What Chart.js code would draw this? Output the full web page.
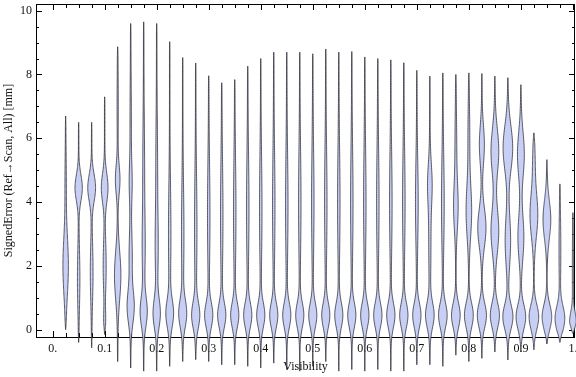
<!DOCTYPE html>
<html>
<head>
<meta charset="utf-8">
<script src="https://cdn.jsdelivr.net/npm/chart.js@4"></script>
<style>
  html, body { margin: 0; padding: 0; background: #fff; }
</style>
</head>
<body>
<canvas id="chart" width="576" height="377"></canvas>
<script>
// violin positions on the Visibility axis
const visibility = [0.025, 0.05, 0.075, 0.1, 0.125, 0.15, 0.175, 0.2, 0.225, 0.25,
  0.275, 0.3, 0.325, 0.35, 0.375, 0.4, 0.425, 0.45, 0.475, 0.5,
  0.525, 0.55, 0.575, 0.6, 0.625, 0.65, 0.675, 0.7, 0.725, 0.75,
  0.775, 0.8, 0.825, 0.85, 0.875, 0.9, 0.925, 0.95, 0.975, 1.0];

// extent of each distribution (mm)
const errorMax = [6.7, 6.5, 6.5, 7.3, 8.87, 9.6, 9.65, 9.6, 9.03, 8.53,
  8.36, 7.96, 7.74, 7.84, 8.26, 8.5, 8.7, 8.7, 8.7, 8.65,
  8.8, 8.7, 8.72, 8.55, 8.5, 8.46, 8.37, 8.13, 7.95, 8.05,
  8.0, 8.05, 8.03, 7.95, 7.9, 7.68, 6.17, 5.33, 4.57, 3.67];
const errorMin = [0.0, -0.4, -0.57, -0.15, -1.0, -1.2, -1.3, -1.3, -1.15, -1.0,
  -0.94, -1.0, -1.1, -1.1, -1.15, -1.2, -1.05, -1.25, -1.3, -1.15,
  -1.0, -1.3, -1.25, -1.3, -1.25, -1.3, -1.3, -1.1, -1.1, -1.15,
  -0.8, -1.0, -0.9, -0.7, -0.95, -0.7, -0.63, -0.45, -0.4, -0.12];

// density modes: [centre (mm), relative width, spread (mm)]
const densityModes = [
  [[2.0, 0.55, 0.9], [4.6, 0.1, 0.8]],
  [[4.45, 0.75, 0.4], [1.6, 0.22, 0.9]],
  [[4.45, 0.8, 0.42], [1.8, 0.25, 0.9]],
  [[4.45, 0.68, 0.45], [2.0, 0.28, 0.8], [0.3, 0.15, 0.3]],
  [[4.7, 0.45, 0.45], [1.7, 0.65, 0.75], [7.0, 0.08, 1.0]],
  [[0.7, 0.7, 0.5], [2.3, 0.3, 0.8], [4.6, 0.25, 0.6], [6.5, 0.1, 1.2]],
  [[0.55, 0.7, 0.45], [2.5, 0.25, 1.0], [5.0, 0.15, 1.5]],
  [[0.5, 0.72, 0.45], [2.5, 0.25, 1.0], [5.0, 0.15, 1.5]],
  [[0.5, 0.75, 0.42], [3.0, 0.22, 1.5]],
  [[0.5, 0.78, 0.42], [3.0, 0.22, 1.5]],
  [[0.45, 0.8, 0.4], [3.2, 0.22, 1.6]],
  [[0.45, 0.82, 0.38], [3.6, 0.22, 1.6]],
  [[0.45, 0.82, 0.38], [3.6, 0.22, 1.6]],
  [[0.45, 0.82, 0.38], [3.7, 0.22, 1.6]],
  [[0.45, 0.82, 0.38], [3.8, 0.22, 1.6]],
  [[0.45, 0.82, 0.38], [3.8, 0.22, 1.6]],
  [[0.45, 0.82, 0.38], [3.9, 0.22, 1.6]],
  [[0.45, 0.82, 0.38], [3.9, 0.22, 1.6]],
  [[0.45, 0.82, 0.38], [4.0, 0.22, 1.6]],
  [[0.45, 0.82, 0.38], [4.0, 0.22, 1.6]],
  [[0.45, 0.82, 0.38], [4.0, 0.22, 1.6]],
  [[0.45, 0.82, 0.38], [4.0, 0.22, 1.6]],
  [[0.45, 0.82, 0.38], [4.0, 0.22, 1.6]],
  [[0.45, 0.84, 0.38], [4.0, 0.22, 1.6]],
  [[0.45, 0.84, 0.38], [4.0, 0.22, 1.6]],
  [[0.45, 0.84, 0.38], [4.0, 0.23, 1.5]],
  [[0.45, 0.84, 0.38], [4.0, 0.23, 1.5]],
  [[0.45, 0.85, 0.38], [4.0, 0.25, 1.3]],
  [[0.45, 0.85, 0.38], [4.6, 0.35, 0.6], [3.0, 0.2, 1.5]],
  [[0.45, 0.88, 0.38], [4.0, 0.25, 1.4]],
  [[0.45, 0.9, 0.38], [3.8, 0.4, 0.7], [5.5, 0.15, 1.2]],
  [[0.45, 0.92, 0.38], [3.7, 0.55, 0.8], [6.0, 0.15, 1.0]],
  [[0.45, 0.95, 0.38], [3.2, 0.85, 0.6], [5.8, 0.5, 0.6]],
  [[0.45, 0.95, 0.38], [3.1, 0.8, 0.7], [5.6, 0.8, 0.7]],
  [[0.4, 1.05, 0.38], [2.8, 0.55, 0.8], [5.7, 1.0, 0.7]],
  [[0.4, 1.0, 0.38], [2.9, 0.6, 0.7], [5.5, 0.7, 0.7]],
  [[0.4, 1.0, 0.38], [3.6, 0.8, 0.7], [5.3, 0.2, 0.6]],
  [[0.4, 1.0, 0.38], [3.45, 0.8, 0.6]],
  [[0.35, 1.0, 0.38], [2.5, 0.15, 1.0]],
  [[0.25, 0.65, 0.3], [1.8, 0.08, 1.0]]
];

// axis ticks
const xLabelTicks = [0, 0.1, 0.2, 0.3, 0.4, 0.5, 0.6, 0.7, 0.8, 0.9, 1.0];
const xLabels = ['0.', '0.1', '0.2', '0.3', '0.4', '0.5', '0.6', '0.7', '0.8', '0.9', '1.'];
const yLabelTicks = [0, 2, 4, 6, 8, 10];
const yMinorTicks = [0.5, 1, 1.5, 2.5, 3, 3.5, 4.5, 5, 5.5, 6.5, 7, 7.5, 8.5, 9, 9.5];

const FONT = "'Liberation Serif', 'DejaVu Serif', serif";
const violinHalfWidth = 0.0088;   // x units for relative width 1
const fillColor = 'rgba(200, 207, 245, 1)';
const edgeColor = 'rgba(40, 40, 48, 0.75)';

function halfWidth(i, v) {
  const lo = errorMin[i], hi = errorMax[i];
  let d = 0.05;
  densityModes[i].forEach(([c, a, s]) => {
    d += a * Math.exp(-0.5 * ((v - c) / s) ** 2);
  });
  const t = Math.max(0, Math.min(1, (v - lo) / 0.35, (hi - v) / 0.35));
  return d * Math.sqrt(t) * violinHalfWidth;
}

const framePlugin = {
  id: 'frame',
  beforeDatasetsDraw(chart) {
    const { ctx, chartArea: a, scales: { x, y } } = chart;
    ctx.save();
    ctx.strokeStyle = '#000';
    ctx.lineWidth = 1;
    ctx.strokeRect(Math.round(a.left) + 0.5, Math.round(a.top) + 0.5,
      Math.round(a.right - a.left) - 1, Math.round(a.bottom - a.top));
    ctx.beginPath();
    const tickX = (v, len) => {
      const px = Math.round(x.getPixelForValue(v)) + 0.5;
      ctx.moveTo(px, a.bottom); ctx.lineTo(px, a.bottom - len);
      ctx.moveTo(px, a.top); ctx.lineTo(px, a.top + len);
    };
    const tickY = (v, len) => {
      const py = Math.round(y.getPixelForValue(v)) + 0.5;
      ctx.moveTo(a.left, py); ctx.lineTo(a.left + len, py);
      ctx.moveTo(a.right, py); ctx.lineTo(a.right - len, py);
    };
    xLabelTicks.forEach(v => tickX(v, 6));
    visibility.forEach(v => tickX(v, 4));
    yLabelTicks.forEach(v => tickY(v, 6));
    yMinorTicks.forEach(v => tickY(v, 3));
    ctx.stroke();
    ctx.restore();
  }
};

const violinPlugin = {
  id: 'violins',
  afterDatasetsDraw(chart) {
    const { ctx, scales: { x, y } } = chart;
    ctx.save();
    ctx.lineWidth = 1;
    ctx.lineJoin = 'round';
    visibility.forEach((pos, i) => {
      const lo = errorMin[i], hi = errorMax[i];
      const steps = 180;
      const left = [], right = [];
      for (let s = 0; s <= steps; s++) {
        const v = lo + (hi - lo) * s / steps;
        const w = halfWidth(i, v);
        const py = y.getPixelForValue(v);
        left.push([x.getPixelForValue(pos - w), py]);
        right.push([x.getPixelForValue(pos + w), py]);
      }
      ctx.beginPath();
      left.forEach(([px, py], k) => k ? ctx.lineTo(px, py) : ctx.moveTo(px, py));
      for (let k = right.length - 1; k >= 0; k--) ctx.lineTo(right[k][0], right[k][1]);
      ctx.closePath();
      ctx.fillStyle = fillColor;
      ctx.fill();
      ctx.strokeStyle = edgeColor;
      ctx.stroke();
    });
    ctx.restore();
  }
};

new Chart(document.getElementById('chart'), {
  type: 'scatter',
  data: {
    datasets: [{
      data: visibility.map((v, i) => ({ x: v, y: errorMax[i] })),
      pointRadius: 0,
      showLine: false
    }]
  },
  options: {
    responsive: false,
    animation: false,
    layout: { padding: { top: 4, right: 1, left: 0, bottom: 0 } },
    plugins: { legend: { display: false }, tooltip: { enabled: false } },
    scales: {
      x: {
        type: 'linear',
        min: -0.032,
        max: 1.004,
        afterFit: s => { s.height = 40; s.paddingLeft = 0; s.paddingRight = 0; },
        afterBuildTicks: s => { s.ticks = xLabelTicks.map(v => ({ value: v })); },
        grid: { display: false, drawTicks: false },
        border: { display: false },
        ticks: {
          autoSkip: false,
          maxRotation: 0,
          padding: 5,
          color: '#111',
          font: { family: FONT, size: 12 },
          callback: (v, idx) => xLabels[idx]
        },
        title: {
          display: true,
          text: 'Visibility',
          color: '#111',
          font: { family: FONT, size: 12 },
          padding: { top: 0, bottom: 3 }
        }
      },
      y: {
        type: 'linear',
        min: -0.23,
        max: 10.21,
        afterFit: s => { s.width = 36; s.paddingTop = 0; s.paddingBottom = 0; },
        afterBuildTicks: s => { s.ticks = yLabelTicks.map(v => ({ value: v })); },
        grid: { display: false, drawTicks: false },
        border: { display: false },
        ticks: {
          padding: 4,
          color: '#111',
          font: { family: FONT, size: 12 },
          callback: v => String(v)
        },
        title: {
          display: true,
          text: 'SignedError (Ref\u2192Scan, All) [mm]',
          color: '#111',
          font: { family: FONT, size: 12 },
          padding: { top: 2, bottom: 2 }
        }
      }
    }
  },
  plugins: [framePlugin, violinPlugin]
});
</script>
</body>
</html>
